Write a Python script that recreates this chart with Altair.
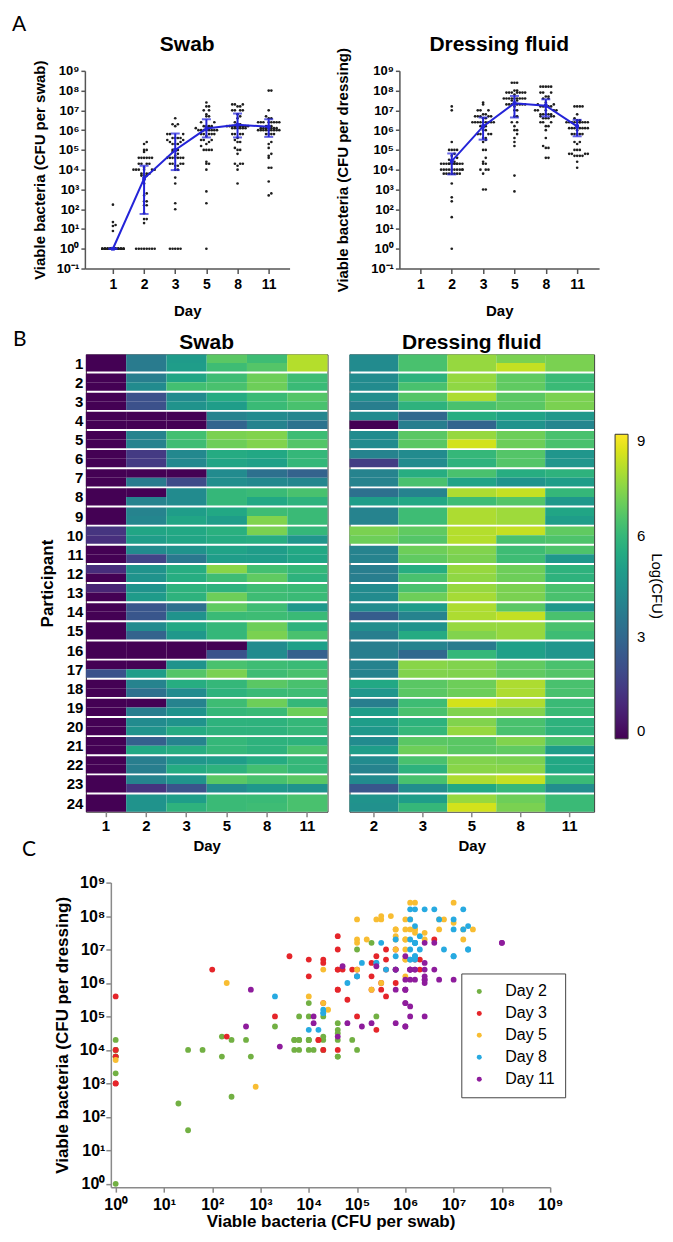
import altair as alt
import pandas as pd

FONT = "Liberation Sans"
LETTER_FONT = "Lato"
BLUE = "#2424d8"
AXC = "#555555"
AXC_C = "#8a8a8a"

DAYS_SWAB = [1, 2, 3, 5, 8, 11]
DAYS_DRESS = [2, 3, 5, 8, 11]
DAY_TICK_LABELS = ["1", "2", "3", "5", "8", "11"]
LOG_TICKS = [0.1, 1, 10, 100, 1e3, 1e4, 1e5, 1e6, 1e7, 1e8, 1e9]
LOG_LABELS = ["10⁻¹", "10⁰", "10¹", "10²", "10³", "10⁴", "10⁵", "10⁶", "10⁷", "10⁸", "10⁹"]
C_LABELS = ["Day 2", "Day 3", "Day 5", "Day 8", "Day 11"]
C_COLORS = ["#72b043", "#e5252a", "#f8bd32", "#27aae1", "#8e1c9c"]

# log10(CFU) per sample, order P1a, P1b, P2a, P2b, ..., P24a, P24b  (0 = none detected)
SWAB_D1 = [0, 0, 0, 0, 0, 0, 0, 0, 0, 0, 0, 0, 0, 0, 0, 0, 0, 0, 1.35, 1.2, 0, 0, 1.15, 0,
           0.9, 0, 0, 0, 0, 0, 0, 0, 0, 2.23, 0, 0, 0, 0, 0, 0, 0, 0, 0, 0, 0, 0, 0, 0]
SWAB_D2 = [3.7, 3.7, 3.8, 4.3, 2.2, 2.2, 0, 0, 4.0, 4.0, 1.5, 1.5, 0, 3.7, 0, 4.0, 4.0, 4.1, 5.3, 5.0, 4.3, 1.8, 4.6, 4.6,
           4.6, 4.9, 2.4, 2.4, 4.3, 2.8, 0, 0, 0, 5.0, 4.0, 3.3, 0, 3.8, 4.3, 4.6, 2.7, 5.4, 3.8, 3.8, 4.0, 1.3, 4.6, 4.6]
SWAB_D3 = [4.9, 5.0, 5.3, 6.3, 4.3, 4.6, 0, 0, 6.3, 6.2, 4.2, 4.2, 0, 2.0, 4.3, 4.3, 5.0, 5.3, 5.4, 5.3, 4.6, 3.6, 5.6, 5.6,
           5.8, 5.8, 3.3, 4.6, 5.4, 4.8, 0, 0, 4.6, 6.6, 5.6, 4.3, 4.0, 4.6, 4.6, 5.5, 4.0, 5.6, 4.7, 5.5, 4.6, 2.3, 5.0, 5.8]
SWAB_D5 = [6.7, 6.2, 6.2, 6.4, 5.5, 5.0, 4.0, 2.9, 7.2, 7.0, 5.5, 5.3, 4.3, 4.4, 6.0, 6.0, 5.4, 5.0, 5.7, 5.5, 5.2, 5.0, 7.4, 6.2,
           5.8, 7.0, 6.8, 6.1, 6.0, 6.0, 0, 2.3, 6.4, 7.2, 6.0, 5.8, 6.2, 6.0, 5.8, 5.8, 6.0, 6.0, 5.0, 5.8, 6.7, 4.3, 6.1, 6.1]
SWAB_D8 = [6.2, 6.6, 7.0, 7.0, 6.1, 6.1, 4.3, 4.0, 7.3, 7.3, 5.4, 5.1, 3.3, 4.2, 6.1, 5.4, 6.2, 7.3, 7.2, 5.6, 5.0, 5.0, 6.3, 6.8,
           6.2, 6.2, 6.2, 6.2, 7.0, 7.2, 4.3, 4.3, 6.2, 6.2, 6.7, 6.1, 7.0, 6.1, 5.8, 5.8, 5.8, 5.8, 5.5, 6.3, 6.4, 4.8, 6.1, 6.2]
SWAB_D11 = [8.0, 8.0, 6.2, 6.1, 6.6, 6.4, 4.1, 3.4, 6.2, 6.6, 6.0, 6.0, 2.8, 4.1, 6.4, 5.8, 6.1, 6.1, 6.0, 4.7, 5.4, 5.3, 6.0, 5.8,
            6.1, 6.1, 4.8, 6.1, 5.8, 6.4, 5.1, 2.7, 6.1, 6.4, 6.4, 6.2, 6.0, 7.0, 6.0, 6.0, 5.8, 6.4, 6.0, 6.0, 6.7, 4.6, 6.4, 6.4]

DRESS_D2 = [4.3, 4.3, 4.3, 4.3, 4.4, 3.8, 4.3, 0, 4.3, 4.3, 4.0, 1.6, 4.0, 4.0, 3.3, 5.0, 4.0, 4.0, 7.2, 7.0, 4.0, 4.0, 3.8, 3.8,
            4.3, 4.3, 4.3, 2.6, 4.4, 3.8, 3.8, 3.8, 4.0, 4.0, 5.4, 4.7, 3.8, 5.0, 5.0, 4.8, 4.3, 5.0, 4.3, 4.0, 4.3, 2.4, 4.6, 4.5]
DRESS_D3 = [6.4, 6.4, 5.8, 6.4, 6.6, 5.8, 3.0, 3.8, 6.7, 6.7, 4.3, 4.3, 5.6, 6.4, 4.0, 5.4, 6.2, 6.2, 6.8, 6.6, 7.0, 6.8, 5.6, 6.4,
            6.4, 7.0, 5.0, 4.0, 4.6, 5.5, 4.0, 3.0, 7.4, 7.3, 6.7, 6.7, 6.2, 6.4, 5.8, 6.0, 6.7, 7.0, 6.4, 5.8, 6.4, 4.4, 5.0, 6.0]
DRESS_D5 = [7.6, 7.6, 7.6, 7.5, 7.9, 6.4, 5.6, 2.9, 7.6, 8.4, 6.0, 5.8, 6.4, 5.2, 7.9, 6.2, 7.9, 7.9, 8.0, 8.0, 7.3, 7.2, 7.6, 7.5,
            7.6, 7.8, 7.9, 7.9, 7.6, 7.3, 3.7, 6.0, 7.3, 7.3, 7.0, 7.0, 8.4, 7.3, 7.3, 7.6, 6.7, 6.7, 7.3, 7.4, 7.9, 5.4, 7.6, 8.4]
DRESS_D8 = [7.2, 8.2, 6.8, 6.8, 6.7, 6.7, 5.2, 4.6, 7.0, 7.0, 6.6, 6.6, 5.6, 4.6, 8.2, 6.6, 7.7, 7.7, 8.2, 6.4, 6.2, 6.2, 7.0, 7.0,
            7.2, 7.2, 6.7, 8.2, 7.6, 7.6, 5.1, 5.1, 6.8, 6.8, 7.9, 7.9, 7.9, 7.3, 6.4, 6.4, 7.3, 6.8, 7.2, 7.4, 8.2, 6.0, 7.0, 7.2]
DRESS_D11 = [7.2, 7.2, 6.1, 6.1, 7.2, 7.2, 4.8, 4.1, 6.4, 6.4, 4.7, 4.7, 5.8, 5.0, 6.0, 4.8, 5.3, 5.0, 6.8, 6.5, 6.5, 4.8, 5.8, 5.8,
             6.4, 6.4, 4.8, 6.4, 6.4, 6.2, 4.7, 4.7, 6.4, 6.6, 6.4, 6.4, 6.1, 6.1, 5.8, 5.8, 6.4, 5.0, 5.4, 5.4, 6.1, 4.4, 6.1, 6.1]

# blue summary (log10 CFU): centre and bar ends
SWAB_MID = [0, 3.55, 5.0, 6.08, 6.27, 6.17]
SWAB_LO = [0, 1.76, 3.98, 5.63, 5.63, 5.66]
SWAB_HI = [0, 4.2, 5.83, 6.55, 6.84, 6.55]
DRESS_MID = [4.43, 6.19, 7.36, 7.24, 6.19]
DRESS_LO = [3.76, 5.52, 6.64, 6.69, 5.69]
DRESS_HI = [4.82, 6.64, 7.73, 7.56, 6.52]

SWAB = [SWAB_D1, SWAB_D2, SWAB_D3, SWAB_D5, SWAB_D8, SWAB_D11]
DRESS = [DRESS_D2, DRESS_D3, DRESS_D5, DRESS_D8, DRESS_D11]
for lst in SWAB + DRESS:
    assert len(lst) == 48, len(lst)

LOG_EXPR = f"{LOG_LABELS}[round(log(datum.value)/LN10)+1]"
DAY_EXPR = f"{DAY_TICK_LABELS}[datum.value]"
ONE = pd.DataFrame({"k": [0]})

PATTERN = [0, 1, -1, 2, -2, 3, -3, 4, -4]


def spread(vals):
    out = [0.0] * len(vals)
    counts = {}
    for i in sorted(range(len(vals)), key=lambda i: vals[i]):
        b = round(vals[i] / 0.3)
        k = counts.get(b, 0)
        counts[b] = k + 1
        out[i] = PATTERN[k % 9] * 0.085
    return out


def text(txt, x, y, size, weight="bold", font=FONT, align="center", baseline="alphabetic", opacity=1, angle=0):
    return alt.Chart(ONE).mark_text(text=txt, font=font, fontSize=size, fontWeight=weight, align=align,
                                    baseline=baseline, color="black", opacity=opacity, angle=angle).encode(
        x=alt.value(x), y=alt.value(y))


def corner(x, y, top_left=True):
    return text(".", x, y, 2, weight="normal", align="left" if top_left else "right",
                baseline="top" if top_left else "bottom", opacity=0)


def spacer():
    return corner(0, 0).properties(width=1, height=1)


# ---------------- panel A ----------------
def panel_a(values, summ_idx, mid, lo, hi, first_idx, width, xdom, ytitle, ytitle_x, title, tl, br, extra=()):
    rows = []
    for j, vals in enumerate(values):
        jit = spread(vals)
        for v, o in zip(vals, jit):
            rows.append({"xj": first_idx + j + o, "cfu": 10 ** v})
    pts = pd.DataFrame(rows)
    summ = pd.DataFrame({"idx": summ_idx, "mid": [10 ** v for v in mid],
                         "lo": [10 ** v for v in lo], "hi": [10 ** v for v in hi]})

    def X(f):
        return alt.X(f"{f}:Q", scale=alt.Scale(domain=xdom, nice=False, zero=False),
                     axis=alt.Axis(values=list(range(6)), labelExpr=DAY_EXPR, title="Day", grid=False,
                                   domainColor=AXC, domainWidth=1.5, tickColor=AXC, tickWidth=1.5, tickSize=5,
                                   labelFont=FONT, labelFontSize=14, labelFontWeight="bold", labelColor="black",
                                   labelPadding=4, labelFlush=False,
                                   titleFont=FONT, titleFontSize=15, titleFontWeight="bold", titleColor="black",
                                   titleX=width / 2, titleY=47, titleAlign="center", titleBaseline="alphabetic"))

    def Y(f):
        return alt.Y(f"{f}:Q", scale=alt.Scale(type="log", domain=[0.1, 1e9], nice=False),
                     axis=alt.Axis(values=LOG_TICKS, labelExpr=LOG_EXPR, title=ytitle, grid=False,
                                   labelOverlap=False, domainColor=AXC, domainWidth=1.5, tickColor=AXC,
                                   tickWidth=1.5, tickSize=4, labelFont=FONT, labelFontSize=13,
                                   labelFontWeight="bold", labelColor="black", labelPadding=2,
                                   titleFont=FONT, titleFontSize=15, titleFontWeight="bold", titleColor="black",
                                   titleX=ytitle_x, titleY=99, titleAngle=270, titleAlign="center",
                                   titleBaseline="middle"))

    layers = [
        alt.Chart(pts).mark_circle(size=7, color="#1e1e1e", opacity=1).encode(x=X("xj"), y=Y("cfu")),
        alt.Chart(summ).mark_line(color=BLUE, strokeWidth=2).encode(x=X("idx"), y=Y("mid")),
        alt.Chart(summ).mark_rule(color=BLUE, strokeWidth=2).encode(x=X("idx"), y=Y("lo"), y2="hi:Q"),
        alt.Chart(summ).mark_tick(color=BLUE, orient="horizontal", size=9, thickness=2).encode(x=X("idx"), y=Y("lo")),
        alt.Chart(summ).mark_tick(color=BLUE, orient="horizontal", size=9, thickness=2).encode(x=X("idx"), y=Y("hi")),
        alt.Chart(summ).mark_point(shape="square", filled=True, size=14, color=BLUE, opacity=1).encode(
            x=X("idx"), y=Y("mid")),
        text(title, width / 2, -20, 21),
        corner(*tl), corner(*br, top_left=False),
    ] + list(extra)
    return alt.layer(*layers).properties(width=width, height=198)


swabA = panel_a(SWAB, list(range(6)), SWAB_MID, SWAB_LO, SWAB_HI, 0, 205, [-0.9, 5.67],
                "Viable bacteria (CFU per swab)", -45, "Swab", (-76, -62), (235, 252),
                extra=[text("A", -73, -57, 21, weight="normal", font=LETTER_FONT, align="left", baseline="top")])
dressA = panel_a(DRESS, list(range(1, 6)), DRESS_MID, DRESS_LO, DRESS_HI, 1, 200, [-0.67, 5.7],
                 "Viable bacteria (CFU per dressing)", -57, "Dressing fluid", (-80, -62), (200, 252))


# ---------------- panel B ----------------
def heat_df(values, days):
    rows = []
    for d, vals in zip(days, values):
        for k, v in enumerate(vals):
            p = k // 2 + 1
            r = k % 2
            y0 = p - 1 + 0.05 + r * 0.45
            rows.append({"day": d, "participant": p, "y0": y0, "y1": y0 + 0.45, "v": v})
    return pd.DataFrame(rows)


H_HEIGHT = 458


def heat(values, days, width, title, show_y, legend, tl, br, extra=()):
    df = heat_df(values, days)
    if show_y:
        yaxis = alt.Axis(values=[p - 0.5 for p in range(1, 25)], labelExpr="round(datum.value + 0.5)",
                         ticks=False, domain=False, grid=False, labelFont=FONT, labelFontSize=15,
                         labelFontWeight="bold", labelColor="black", labelPadding=3, labelOverlap=False,
                         title="Participant", titleFont=FONT, titleFontSize=17, titleFontWeight="bold",
                         titleColor="black", titleX=-38, titleY=H_HEIGHT / 2, titleAngle=270,
                         titleAlign="center", titleBaseline="middle")
    else:
        yaxis = None
    rect = alt.Chart(df).mark_rect().encode(
        x=alt.X("day:O", sort=days, scale=alt.Scale(paddingInner=0, paddingOuter=0),
                axis=alt.Axis(labelAngle=0, ticks=True, tickSize=5, tickColor="#888888", tickWidth=1.5,
                              domain=False, labelFont=FONT, labelFontSize=15,
                              labelFontWeight="bold", labelColor="black", labelPadding=2, title="Day",
                              titleFont=FONT, titleFontSize=15, titleFontWeight="bold", titleColor="black",
                              titleX=width / 2, titleY=39, titleAlign="center", titleBaseline="alphabetic")),
        y=alt.Y("y0:Q", scale=alt.Scale(domain=[0.05, 23.95], reverse=True, nice=False, zero=False), axis=yaxis),
        y2="y1:Q",
        color=alt.Color("v:Q", scale=alt.Scale(scheme="viridis", domain=[0, 9]), legend=legend),
    )
    layers = [rect, text(title, width / 2, -5, 21), corner(*tl), corner(*br, top_left=False)] + list(extra)
    return alt.layer(*layers).properties(width=width, height=H_HEIGHT,
                                         view=alt.ViewBackground(stroke="#333333", strokeWidth=1))


cbar = alt.Legend(orient="none", legendX=266, legendY=80, direction="vertical", gradientLength=305,
                  gradientThickness=13, values=[0, 3, 6, 9], title=None, labelFont=FONT,
                  labelFontSize=15, labelColor="black", labelOffset=9, gradientStrokeColor="#333333",
                  gradientStrokeWidth=1, padding=0)

swabH = heat(SWAB, DAYS_SWAB, 242, "Swab", True, None, (-76, -31), (252, 509),
             extra=[text("B", -73, -25, 21, weight="normal", font=LETTER_FONT, align="left", baseline="top"),
                    text("C", -64, 485, 21, weight="normal", font=LETTER_FONT, align="left", baseline="top")])
dressH = heat(DRESS, DAYS_DRESS, 245, "Dressing fluid", False, cbar, (-10, -31), (245, 509),
              extra=[text("Log(CFU)", 308, 232, 15, weight="normal", baseline="middle", angle=90)])

# ---------------- panel C ----------------
crow = []
for j, d in enumerate(DAYS_DRESS):
    sw = SWAB[DAYS_SWAB.index(d)]
    dr = DRESS[j]
    for a, b in zip(sw, dr):
        crow.append({"sw": 10 ** a, "dr": 10 ** b, "label": C_LABELS[j], "order": j})
cdf = pd.DataFrame(crow)

c_axis_common = dict(grid=False, labelOverlap=False, labelFlush=False, domainColor=AXC_C, domainWidth=1.5,
                     tickColor=AXC_C, tickWidth=1.5, tickSize=5, labelFont=FONT, labelFontSize=16,
                     labelFontWeight="bold", labelColor="black", titleFont=FONT, titleFontSize=17,
                     titleFontWeight="bold", titleColor="black")

scat = alt.Chart(cdf).mark_circle(size=34, opacity=1).encode(
    x=alt.X("sw:Q", scale=alt.Scale(type="log", domain=[10 ** -0.1, 1e9], nice=False),
            axis=alt.Axis(values=LOG_TICKS[1:], labelExpr=LOG_EXPR, title="Viable bacteria (CFU per swab)",
                          labelPadding=4, titleX=220, titleY=39, titleAlign="center", titleBaseline="alphabetic",
                          **c_axis_common)),
    y=alt.Y("dr:Q", scale=alt.Scale(type="log", domain=[10 ** -0.1, 1e9], nice=False),
            axis=alt.Axis(values=LOG_TICKS[1:], labelExpr=LOG_EXPR, title="Viable bacteria (CFU per dressing)",
                          labelPadding=1, titleX=-48, titleY=152.5, titleAngle=270, titleAlign="center",
                          titleBaseline="middle", **c_axis_common)),
    color=alt.Color("label:N", sort=C_LABELS, scale=alt.Scale(domain=C_LABELS, range=C_COLORS),
                    legend=alt.Legend(orient="none", legendX=454, legendY=91, title=None, strokeColor="#444444",
                                      fillColor="white", padding=10, symbolSize=25, symbolType="circle",
                                      symbolStrokeWidth=0, labelFont=FONT, labelFontSize=16, labelColor="black",
                                      labelOffset=18, rowPadding=6)),
    order="order:Q",
)
chartC = alt.layer(scat, corner(-102, -19)).properties(width=440, height=305)

# first column of every row is a 1px spacer, so the panels' left overhangs set their x positions
rowA = alt.hconcat(spacer(), swabA, dressA, spacing=0)
rowB = alt.hconcat(spacer(), swabH, dressH, spacing=0).resolve_scale(color="independent")
rowC = alt.hconcat(spacer(), chartC, spacing=0)
chart = (alt.vconcat(rowA, rowB, rowC, spacing=0)
         .resolve_scale(color="independent")
         .properties(padding=0)
         .configure(font=FONT)
         .configure_view(strokeWidth=0))

chart.save("out.html", embed_options={"renderer": "svg", "actions": False})
